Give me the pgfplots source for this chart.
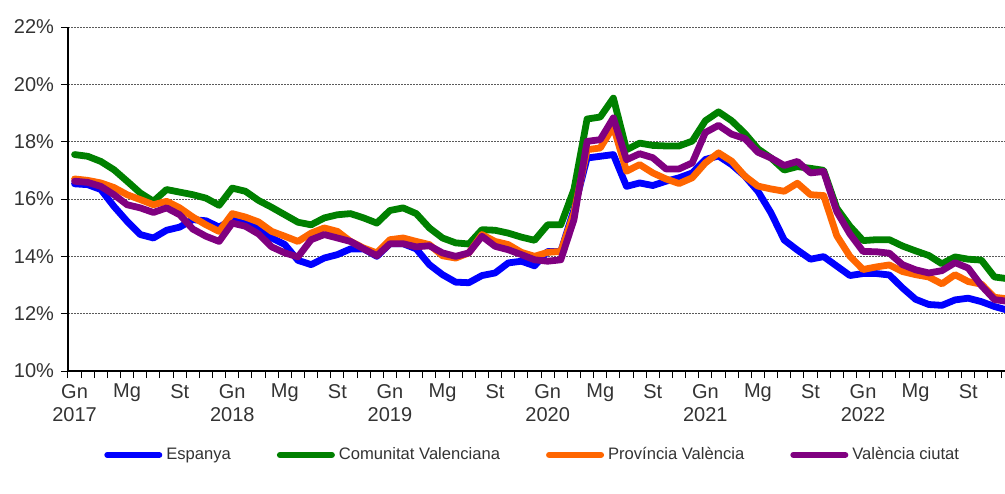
\documentclass[border=0pt]{standalone}
\usepackage{pgfplots}
\pgfplotsset{compat=1.18}
\usepackage{pgfplotstable}
\usepackage{fontspec}
\setmainfont{Liberation Sans}
\definecolor{cBlue}{RGB}{0,0,255}
\definecolor{cGreen}{RGB}{0,128,0}
\definecolor{cOrange}{RGB}{255,102,0}
\definecolor{cPurple}{RGB}{128,0,128}
\definecolor{cGrid}{RGB}{90,90,90}

\pgfplotstableread{
i esp cv pv vc
0 16.53 17.55 16.70 16.62
1 16.50 17.49 16.65 16.58
2 16.33 17.31 16.56 16.44
3 15.74 17.02 16.40 16.15
4 15.22 16.62 16.15 15.80
5 14.76 16.21 15.98 15.69
6 14.64 15.92 15.80 15.53
7 14.91 16.33 15.92 15.69
8 15.02 16.24 15.69 15.45
9 15.28 16.15 15.37 14.95
10 15.24 16.03 15.10 14.70
11 15.02 15.78 14.87 14.52
12 15.28 16.38 15.49 15.16
13 15.19 16.27 15.37 15.05
14 14.99 15.95 15.20 14.78
15 14.64 15.71 14.87 14.33
16 14.41 15.45 14.70 14.12
17 13.86 15.19 14.52 13.98
18 13.71 15.10 14.81 14.58
19 13.94 15.34 14.99 14.76
20 14.06 15.45 14.87 14.64
21 14.26 15.49 14.52 14.52
22 14.26 15.34 14.29 14.26
23 14.00 15.16 14.12 14.02
24 14.44 15.60 14.58 14.44
25 14.44 15.69 14.64 14.44
26 14.26 15.49 14.52 14.33
27 13.71 14.99 14.41 14.37
28 13.36 14.64 14.02 14.12
29 13.10 14.47 13.94 14.00
30 13.08 14.43 14.12 14.12
31 13.33 14.93 14.76 14.70
32 13.42 14.91 14.52 14.35
33 13.77 14.81 14.41 14.23
34 13.83 14.67 14.14 14.06
35 13.67 14.56 14.00 13.88
36 14.17 15.10 14.14 13.83
37 14.17 15.10 14.17 13.88
38 15.63 16.33 15.51 15.28
39 17.43 18.79 17.72 18.01
40 17.49 18.86 17.78 18.07
41 17.55 19.52 18.53 18.83
42 16.44 17.72 16.97 17.37
43 16.56 17.95 17.20 17.58
44 16.47 17.87 16.91 17.44
45 16.62 17.85 16.70 17.05
46 16.74 17.85 16.54 17.05
47 16.91 18.02 16.74 17.26
48 17.38 18.73 17.26 18.32
49 17.50 19.04 17.61 18.57
50 17.20 18.73 17.32 18.26
51 16.80 18.29 16.80 18.11
52 16.27 17.75 16.45 17.63
53 15.51 17.43 16.35 17.43
54 14.57 17.01 16.27 17.17
55 14.22 17.13 16.55 17.31
56 13.90 17.07 16.15 16.91
57 13.99 17.00 16.12 16.96
58 13.66 15.68 14.72 15.56
59 13.33 15.05 14.00 14.78
60 13.40 14.55 13.54 14.17
61 13.40 14.58 13.63 14.16
62 13.35 14.58 13.70 14.11
63 12.90 14.36 13.47 13.71
64 12.50 14.19 13.36 13.53
65 12.32 14.03 13.28 13.42
66 12.29 13.74 13.04 13.50
67 12.48 13.98 13.36 13.78
68 12.54 13.90 13.12 13.59
69 12.42 13.87 13.03 12.98
70 12.25 13.28 12.57 12.49
71 12.12 13.22 12.52 12.43
}\data

\begin{document}
\begin{tikzpicture}
\begin{axis}[
  at={(0,0)}, anchor=south west,
  scale only axis,
  width=468.5pt, height=172pt,
  xmin=-0.5, xmax=70.8,
  ymin=10, ymax=22,
  axis x line=bottom, axis y line=left,
  axis line style={-, black, line width=0.7pt},
  tick align=outside,
  major tick length=3.5pt,
  tick style={black, line width=0.5pt},
  ytick={10,12,...,22},
  yticklabels={10\%,12\%,14\%,16\%,18\%,20\%,22\%},
  yticklabel style={font=\fontsize{10}{12}\selectfont, text=black!80},
  ymajorgrids,
  major grid style={cGrid, line width=0.5pt, dash pattern=on 0.9pt off 0.6pt},
  xtick={-0.5,0.5,...,70.5},
  xticklabels={},
  extra x ticks={0,4,...,68},
  extra x tick labels={{Gn\\2017},Mg,St,{Gn\\2018},Mg,St,{Gn\\2019},Mg,St,{Gn\\2020},Mg,St,{Gn\\2021},Mg,St,{Gn\\2022},Mg,St},
  extra x tick style={major tick length=0pt, xticklabel style={align=center, font=\fontsize{10}{11.5}\selectfont, text=black!80, yshift=-3pt}},
  legend columns=4,
  legend style={draw=none, at={(0.497,-0.244)}, anchor=center,
    font=\fontsize{8.3}{10}\selectfont, text=black!80,
    /tikz/every even column/.append style={column sep=21pt}},
  legend image code/.code={\draw[#1, line width=3pt] (0pt,0pt) -- (26pt,0pt);},
  every axis plot/.append style={line width=3.4pt, line join=round, line cap=round, mark=none},
]
\addplot[cBlue] table[x=i,y=esp]{\data};
\addplot[cGreen] table[x=i,y=cv]{\data};
\addplot[cOrange] table[x=i,y=pv]{\data};
\addplot[cPurple] table[x=i,y=vc]{\data};
\legend{Espanya,Comunitat Valenciana,Província València,València ciutat}
\end{axis}
\pgfresetboundingbox
\useasboundingbox (-34pt,-61pt) rectangle (468.5pt,185.5pt);
\end{tikzpicture}
\end{document}
